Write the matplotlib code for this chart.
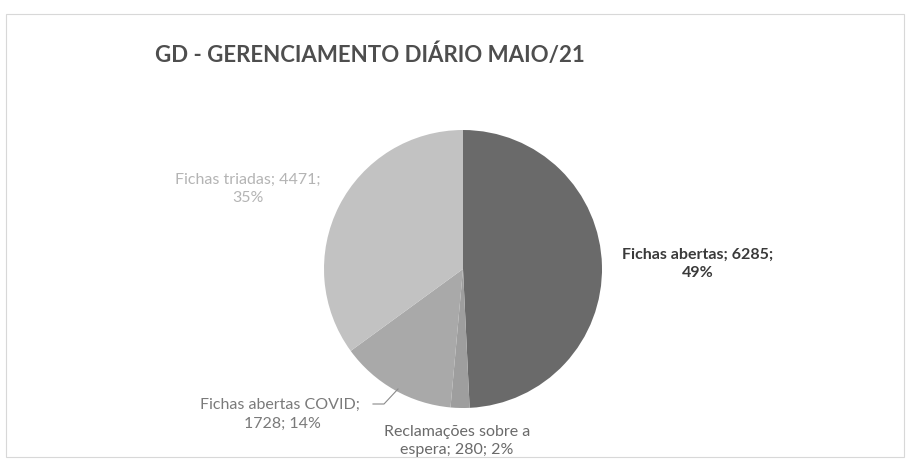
import matplotlib
matplotlib.use("Agg")
import matplotlib.pyplot as plt
from matplotlib.patches import Rectangle

# GD - gerenciamento diário, maio/21
categorias = ["Fichas abertas", "Reclamações sobre a espera", "Fichas abertas COVID", "Fichas triadas"]
valores = [6285, 280, 1728, 4471]
percentuais = [49, 2, 14, 35]
cores = ["#6a6a6a", "#9e9e9e", "#a9a9a9", "#c2c2c2"]

plt.rcParams["font.family"] = ["Lato", "DejaVu Sans"]

fig = plt.figure(figsize=(9.06, 4.61), dpi=100)
W, H = 906, 461

# moldura do gráfico
fig.patches.append(Rectangle((6 / W, 4 / H), 898 / W, 443 / H, transform=fig.transFigure,
                             fill=False, edgecolor="#d8d8d8", linewidth=0.8))

cx, cy, r = 463, 269, 139
ax = fig.add_axes([(cx - r) / W, (H - cy - r) / H, 2 * r / W, 2 * r / H])
ax.pie(valores, colors=cores, startangle=90, counterclock=False, radius=1,
       wedgeprops=dict(linewidth=0))
ax.set_xlim(-1, 1)
ax.set_ylim(-1, 1)
ax.set_aspect("equal")
ax.axis("off")

fig.text(370 / W, 1 - 55 / H, "GD - GERENCIAMENTO DIÁRIO MAIO/21", ha="center", va="center",
         fontsize=16, fontweight="bold", color="#4e4e4e")

def rotulo(i):
    return f"{categorias[i]}; {valores[i]};\n{percentuais[i]}%"

kw = dict(ha="center", va="center", fontsize=11.5, linespacing=1.45)
fig.text(698 / W, 1 - 264 / H, rotulo(0), color="#3a3a3a", fontweight="bold", **kw)
fig.text(248 / W, 1 - 189 / H, rotulo(3), color="#b4b4b4", **kw)
fig.text(282 / W, 1 - 414 / H, f"{categorias[2]}; \n{valores[2]}; {percentuais[2]}%",
         color="#7a7a7a", **kw)
fig.text(457 / W, 1 - 441 / H, f"Reclamações sobre a\nespera; {valores[1]}; {percentuais[1]}%",
         color="#6a6a6a", **kw)

# linha de chamada da fatia COVID
fig.add_artist(plt.Line2D([373 / W, 384 / W, 398 / W], [1 - 404 / H, 1 - 404 / H, 1 - 389 / H],
                          color="#8a8a8a", linewidth=0.8))

fig.savefig("out.png", dpi=100, facecolor="white")
